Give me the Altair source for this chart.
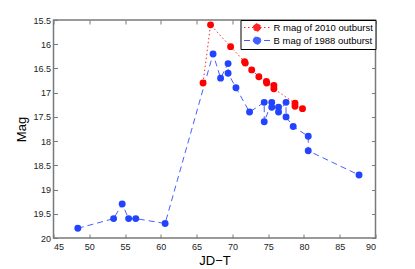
import altair as alt
import pandas as pd

# R band, 2010 outburst (in plotting order)
r_jd = [65.9, 66.95, 69.75, 71.7, 71.8, 72.7, 73.7, 74.75, 74.8, 75.8, 75.8, 78.75, 78.75, 79.8]
r_mag = [16.8, 15.6, 16.05, 16.36, 16.39, 16.53, 16.67, 16.77, 16.8, 16.85, 16.92, 17.22, 17.28, 17.33]

# B band, 1988 outburst (in plotting order)
b_jd = [48.4, 53.4, 54.6, 55.5, 56.5, 60.6, 67.3, 68.35, 69.4, 69.4, 70.5, 72.4,
        74.45, 74.45, 75.5, 75.5, 76.45, 76.45, 77.5, 77.5, 78.5, 80.6, 80.6, 87.7]
b_mag = [19.8, 19.6, 19.3, 19.6, 19.6, 19.7, 16.2, 16.7, 16.4, 16.6, 16.9, 17.4,
         17.2, 17.6, 17.2, 17.3, 17.3, 17.4, 17.2, 17.5, 17.7, 17.9, 18.2, 18.7]

series = ["R mag of 2010 outburst", "B mag of 1988 outburst"]
colors = ["#ff0000", "#2344ff"]
x_ticks = [45, 50, 55, 60, 65, 70, 75, 80, 85, 90]
y_ticks = [15.5, 16, 16.5, 17, 17.5, 18, 18.5, 19, 19.5, 20]

rows = []
for i, (x, y) in enumerate(zip(r_jd, r_mag)):
    rows.append({"jd": x, "mag": y, "series": series[0], "idx": i})
for i, (x, y) in enumerate(zip(b_jd, b_mag)):
    rows.append({"jd": x, "mag": y, "series": series[1], "idx": i})
df = pd.DataFrame(rows)

FONT = "Liberation Sans"
AX = "#7a7a7a"

legend_path = ("M-2.6,0L2.6,0M0.75,0A0.75,0.75,0,1,1,-0.75,0"
               "A0.75,0.75,0,1,1,0.75,0Z")

color_scale = alt.Scale(domain=series, range=colors)
dash_scale = alt.Scale(domain=series, range=[[1.5, 2.5], [6, 4]])

x_scale = alt.Scale(domain=[45, 90], nice=False, zero=False)
y_scale = alt.Scale(domain=[15.5, 20], reverse=True, nice=False, zero=False)

common_axis = dict(domain=False, tickSize=4, offset=-4, tickColor=AX, tickWidth=1,
                   grid=False, labelFont=FONT, labelFontSize=9, labelColor="#222",
                   titleFont=FONT, titleFontSize=13, titleFontWeight="normal",
                   titleColor="#000")

legend = alt.Legend(title=None, orient="top-right", offset=0, strokeColor="#000",
                    fillColor="#fff", padding=2, rowPadding=0,
                    labelFont=FONT, labelFontSize=9.5, labelColor="#000",
                    symbolType=legend_path, symbolSize=100, symbolStrokeWidth=1,
                    symbolOffset=9, labelOffset=11)

line = alt.Chart(df).mark_line(strokeWidth=1, opacity=0.85).encode(
    x=alt.X("jd:Q", scale=x_scale, title="JD\u2212T",
            axis=alt.Axis(orient="bottom", values=x_ticks, labelPadding=4,
                          titlePadding=3, **common_axis)),
    y=alt.Y("mag:Q", scale=y_scale, title="Mag",
            axis=alt.Axis(orient="left", values=y_ticks, format="~g",
                          labelPadding=3, titlePadding=4, **common_axis)),
    color=alt.Color("series:N", scale=color_scale, sort=series, legend=legend),
    strokeDash=alt.StrokeDash("series:N", scale=dash_scale, sort=series, legend=legend),
    detail="series:N",
    order="idx:Q",
)

points = alt.Chart(df).mark_point(filled=True, size=48, opacity=1).encode(
    x=alt.X("jd:Q", scale=x_scale, title=None,
            axis=alt.Axis(orient="top", values=x_ticks, labels=False, **common_axis)),
    y=alt.Y("mag:Q", scale=y_scale, title=None,
            axis=alt.Axis(orient="right", values=y_ticks, labels=False, **common_axis)),
    color=alt.Color("series:N", scale=color_scale, sort=series, legend=legend),
)

chart = alt.layer(line, points).resolve_axis(
    x="independent", y="independent"
).properties(
    width=322, height=218,
    autosize=alt.AutoSizeParams(type="none"),
    padding={"left": 45.5, "top": 12, "right": 20, "bottom": 40},
).configure_view(
    stroke=AX, strokeWidth=1.5
)

chart.save("out.html", embed_options={"renderer": "svg", "actions": False})
